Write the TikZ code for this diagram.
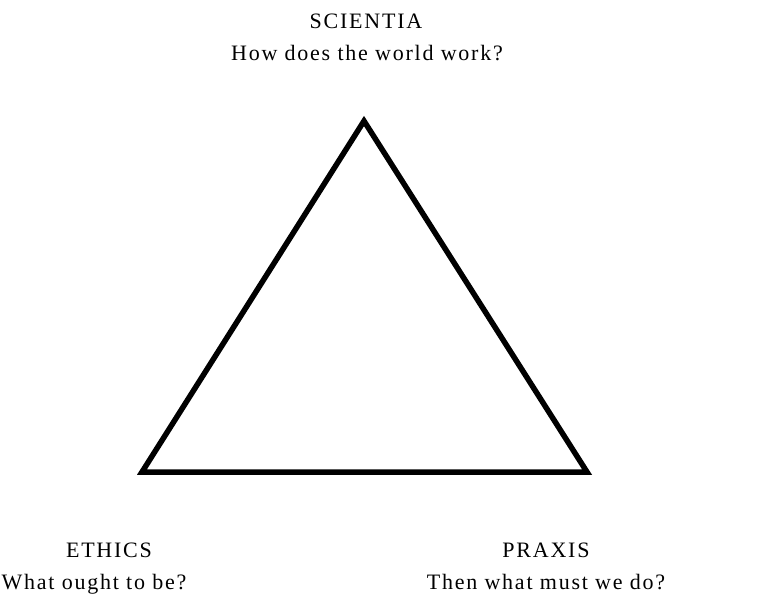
\documentclass[tikz,border=0pt]{standalone}
\usepackage{fontspec}
\setmainfont{Liberation Serif}[LetterSpace=8]
\usetikzlibrary{positioning}

\begin{document}
\begin{tikzpicture}[
  x=1pt, y=1pt,
  corner/.style={font=\fontsize{22}{26}\selectfont, anchor=base, inner sep=0pt},
  edge/.style={line width=5.5pt, line join=miter}
]
\useasboundingbox (0,0) rectangle (778,597);
\coordinate (top) at (364,476);
\coordinate (left) at (142,125);
\coordinate (right) at (587,125);

\node[corner] (scientia) at (366,568) {SCIENTIA};
\node[corner] (scientiaq) at (367,536) {How does the world work?};
\node[corner] (ethics) at (109,40) {ETHICS};
\node[corner] (ethicsq) at (94,8) {What ought to be?};
\node[corner] (praxis) at (546,40) {PRAXIS};
\node[corner] (praxisq) at (546,8) {Then what must we do?};

\draw[edge] (top) -- (left) -- (right) -- cycle;
\end{tikzpicture}
\end{document}
